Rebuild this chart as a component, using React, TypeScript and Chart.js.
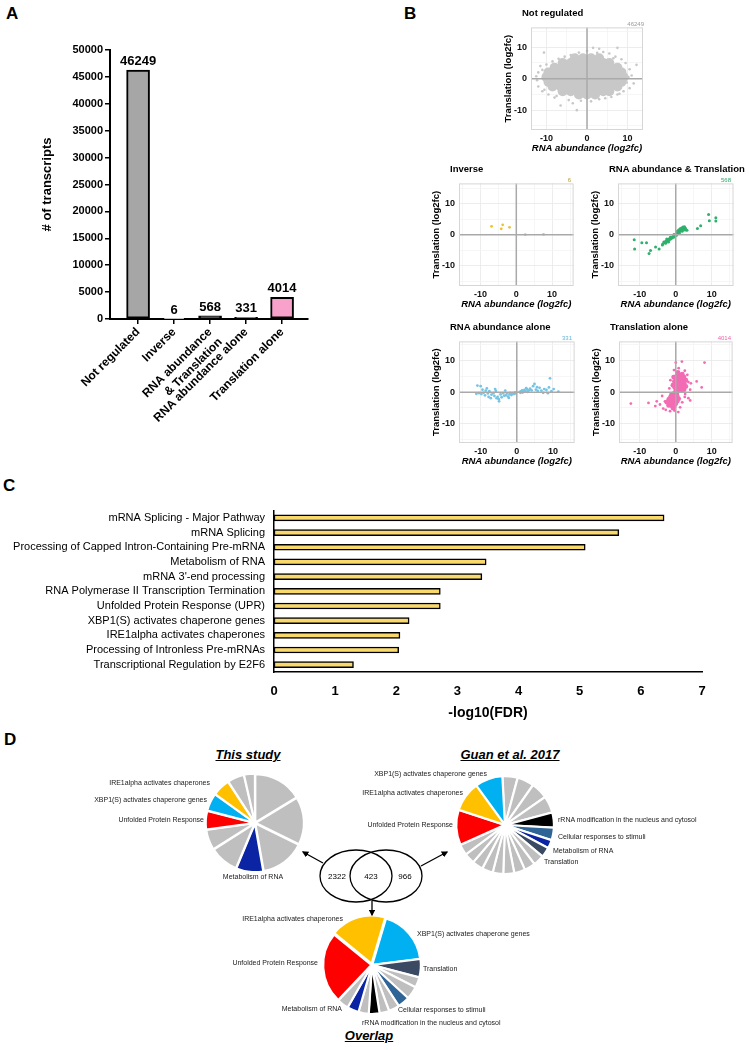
import React, { useEffect, useRef } from "react";
import { Chart, registerables } from "chart.js";

Chart.register(...registerables);

const FONT = '"Liberation Sans", Arial, Helvetica, sans-serif';
Chart.defaults.font.family = FONT;
Chart.defaults.color = "#000";

// ---------------- Panel A data ----------------
const transcriptCategories: any[] = [
  "Not regulated",
  "Inverse",
  ["RNA abundance", "& Translation"],
  "RNA abundance alone",
  "Translation alone",
];
const transcriptCounts = [46249, 6, 568, 331, 4014];
const transcriptColors = ["#a6a6a6", "#ffffff", "#222222", "#8c8c8c", "#f7a1cb"];

// ---------------- Panel B data (log2fc RNA abundance, log2fc translation) ----------------
const notRegulatedCore: number[][] = [
  [-3, 6.5], [-1, 6.5], [1, 6.5], [3, 6.5],
  [-6, 5], [-4, 5], [-2, 5], [0, 5], [2, 5], [4, 5], [5.5, 5],
  [-8, 3.5], [-6, 3.5], [-4, 3.5], [-2, 3.5], [0, 3.5], [2, 3.5], [4, 3.5], [6, 3.5], [7.5, 3.5],
  [-9.5, 2], [-7.5, 2], [-5.5, 2], [-3.5, 2], [-1.5, 2], [0.5, 2], [2.5, 2], [4.5, 2], [6.5, 2], [8.5, 2],
  [-10, 0.5], [-8, 0.5], [-6, 0.5], [-4, 0.5], [-2, 0.5], [0, 0.5], [2, 0.5], [4, 0.5], [6, 0.5], [8, 0.5], [9, 0.5],
  [-9.5, -1], [-7.5, -1], [-5.5, -1], [-3.5, -1], [-1.5, -1], [0.5, -1], [2.5, -1], [4.5, -1], [6.5, -1], [8.5, -1],
  [-8.5, -2.5], [-6.5, -2.5], [-4.5, -2.5], [-2.5, -2.5], [-0.5, -2.5], [1.5, -2.5], [3.5, -2.5], [5.5, -2.5], [7.5, -2.5],
  [-6, -4], [-4, -4], [-2, -4], [0, -4], [2, -4], [4, -4], [5.5, -4],
  [-2, -5], [0, -5], [2, -5],
];
const notRegulatedSparse: number[][] = [
  [-10.6, 8.3], [-11.5, 4], [-12, 2], [-12.3, -0.5], [-12, -2.5], [-11, -4], [-9.5, -5], [-8, -6],
  [-6.5, -8.5], [-2.5, -10], [-4.5, -6.8], [-1.5, -7], [1, -7.2], [3, -6.5], [4.5, -6.2], [6, -5.8],
  [7.5, -5], [9, -4], [10.5, -3], [11.5, -1.5], [11, 1], [10.5, 3], [12.2, 4.4], [9.5, 5],
  [8.5, 6.2], [7, 7], [7.5, 9.8], [5.5, 8], [4, 8.5], [3, 9.5], [1.5, 9.8], [0, 8.8],
  [-2, 8.3], [-4, 7.5], [-5.5, 7], [-7, 6.3], [-8.5, 5.5], [-10, 4.5], [-11, 2.8], [-10.5, -3.5],
  [9.8, -1.2], [10.2, 0.5], [-12.5, 0.8], [-7.5, -5.5], [6.5, 6.5], [-3.5, -7.8], [2.5, 8.2], [8, -4.8],
];
const inversePoints: number[][] = [
  [-6.9, 2.7], [-4.2, 1.9], [-3.8, 3.2], [-1.9, 2.4], [2.5, 0], [7.6, 0.1],
];
const bothPoints: number[][] = [
  [-11.5, -1.6], [-11.4, -4.6], [-9.4, -2.6], [-8.1, -2.6], [-7.4, -6.1], [-7, -5.1], [-5.6, -4],
  [-4.6, -4.6], [-3.7, -3.3], [-2.8, -2.8], [3.1, 1.4], [6, 2], [6.9, 2.9], [9.1, 6.5], [9.3, 4.5],
  [11.1, 5.5], [11.1, 4.4],
  [-3.3, -2.4], [-3, -2.6], [-2.8, -2.1], [-2.6, -2.3], [-2.4, -1.8], [-2.2, -2], [-2, -1.5],
  [-1.8, -1.7], [-1.6, -1.2], [-1.4, -1.4], [-1.2, -0.9], [-1, -1.1], [-0.8, -0.6], [-0.6, -0.8],
  [-0.4, -0.3], [-0.2, -0.5], [0, 0], [0.3, 0.5], [0.5, 0.8], [0.7, 0.6], [0.9, 1.2], [1.1, 1],
  [1.3, 1.5], [1.5, 1.3], [1.7, 1.8], [1.9, 1.6], [2.1, 2.1], [2.3, 1.9], [2.5, 2.3], [2.7, 2],
  [0.8, 1.5], [1.2, 1.9], [1.6, 2.2], [2, 2.5], [2.4, 2.6], [0.4, 1.1], [-1.5, -0.8], [-2.5, -1.4],
  [-3.6, -3], [-2, -2.4], [1, 0.4], [1.8, 1.1], [2.6, 1.5], [0.2, -0.2], [-0.5, 0.1],
];
const rnaAlonePoints: number[][] = [
  [-10.9, 2.1], [-10, 1.9], [-11.2, -0.5], [-10.5, -0.3], [-9.8, -0.6], [-9.2, -0.2], [-8.6, 0.5],
  [-8.8, -1], [-8, -0.4], [-7.6, 0.3], [-7.2, -1.9], [-7, -0.8], [-6.5, -0.3], [-6.2, -1.2],
  [-5.8, 0.4], [-5.3, -1.5], [-4.9, -2.9], [-5, -2.2], [-4.5, -0.7], [-4.2, -1.6], [-3.8, -0.3],
  [-3.5, -1.1], [-3, -1], [-2.7, -0.4], [-2.4, -1.4], [-2, -0.7], [-1.8, -0.2], [-1.5, -0.9],
  [-1.1, -0.3], [-0.8, -0.6], [-0.5, -0.1], [-1.3, -0.5], [-0.3, -0.4], [-8.3, 1.2], [-6, 1],
  [-3.2, 0.5], [-9.5, 0.8], [-7.8, -1.5], [-5.6, -1.9], [-2.2, -1.8],
  [0.8, 0.1], [1.2, 0.3], [1.5, 0.6], [1.8, 0.2], [2.1, 0.7], [2.4, 0.4], [2.6, 1.3], [2.9, 0.9],
  [3.3, 0.5], [3.7, 1.1], [4.1, 0.6], [4.5, 1.9], [4.9, 2.6], [5.3, 0.8], [5.8, 0.4], [6.3, 1.4],
  [6.8, 0.5], [7.3, -0.2], [7.6, 1], [8.2, 0.7], [8.6, -0.3], [9.2, 4.4], [9.6, 0.3], [10.2, 1],
  [11.5, 0.2], [1, -0.2], [1.6, -0.1], [3, 0.1], [5.6, 1.6], [8.9, 1.5],
];
const translationCore: number[][] = [
  [0, 0.5], [0.8, 0.5], [1.6, 0.6], [2.3, 0.8], [-0.3, 1.5], [0.5, 1.5], [1.3, 1.5], [2.1, 1.6],
  [2.8, 1.8], [0, 2.5], [0.8, 2.5], [1.6, 2.5], [2.4, 2.7], [-0.4, 3.4], [0.4, 3.4], [1.2, 3.5],
  [2, 3.5], [2.8, 3.8], [0, 4.4], [0.8, 4.4], [1.6, 4.5], [2.3, 4.8], [0.3, 5.4], [1.1, 5.4],
  [1.8, 5.7], [0.6, 6.3], [-0.6, 4.8], [-0.8, 2.2],
  [-0.5, -0.4], [0.3, -0.5], [-1.2, -0.8], [-0.4, -1.2], [0.4, -1.3], [-1.5, -1.6], [-0.8, -2],
  [0, -2], [0.8, -2.1], [-2, -2.4], [-1.2, -2.8], [-0.4, -2.8], [0.4, -2.9], [-2.5, -3.2],
  [-1.6, -3.5], [-0.8, -3.6], [0, -3.7], [-2, -4.2], [-1.2, -4.3], [-0.4, -4.4], [-0.8, -5],
];
const translationSparse: number[][] = [
  [0, 9.4], [1.7, 9.7], [8, 9.4], [0.8, 7.6], [-0.5, 7], [2.5, 6.8], [3.2, 5.5], [3.5, 3.2],
  [4.2, 2.8], [5.8, 3.4], [7.2, 1.5], [4, 0.8], [-1.5, 3.8], [-1.8, 1.2], [-12.5, -3.6],
  [-7.6, -3.4], [-5.7, -4.4], [-5.3, -2.9], [-4.4, -3.9], [-3, -2.9], [-3.5, -5.2], [-2.8, -5.6],
  [-2, -1.9], [3.5, -1.9], [4, -2.6], [2.5, -1.5], [1.8, -3.2], [0.7, -6.3], [-0.4, -5.8],
  [1.2, -4.8], [-1.6, -6], [2.6, -0.6], [-3.8, -1.2],
];
const scatterTitles = ["Not regulated", "Inverse", "RNA abundance & Translation", "RNA abundance alone", "Translation alone"];
const scatterCounts = ["46249", "6", "568", "331", "4014"];
const scatterGridTicks = [-15, -10, -5, 0, 5, 10, 15];
const scatterLabelTicks = [-10, 0, 10];

// ---------------- Panel C data ----------------
const pathwayNames = [
  "mRNA Splicing - Major Pathway",
  "mRNA Splicing",
  "Processing of Capped Intron-Containing Pre-mRNA",
  "Metabolism of RNA",
  "mRNA 3'-end processing",
  "RNA Polymerase II Transcription Termination",
  "Unfolded Protein Response (UPR)",
  "XBP1(S) activates chaperone genes",
  "IRE1alpha activates chaperones",
  "Processing of Intronless Pre-mRNAs",
  "Transcriptional Regulation by E2F6",
];
const pathwayScores = [6.38, 5.64, 5.09, 3.47, 3.4, 2.72, 2.72, 2.21, 2.06, 2.04, 1.3];

// ---------------- Panel D data ----------------
const G = "#bfbfbf", RED = "#ff0000", CYAN = "#00b0f0", YEL = "#ffc000", DBLUE = "#0a24a3",
  BLACK = "#000000", STEEL = "#2f6497", SLATE = "#3b4a63";
const thisStudyNames = ["", "", "", "Metabolism of RNA", "", "", "Unfolded Protein Response",
  "XBP1(S) activates chaperone genes", "IRE1alpha activates chaperones", "", ""];
const thisStudyValues = [58.7, 57.3, 54, 32.5, 35, 24.6, 22.3, 21.3, 21.2, 20, 13];
const thisStudyColors = [G, G, G, DBLUE, G, G, RED, CYAN, YEL, G, G];

const guanNames = ["", "", "", "", "rRNA modification in the nucleus and cytosol",
  "Cellular responses to stimuli", "Metabolism of RNA", "Translation",
  "", "", "", "", "", "", "", "", "",
  "Unfolded Protein Response", "IRE1alpha activates chaperones", "XBP1(S) activates chaperone genes"];
const guanValues = [18, 20, 20, 20, 18, 15, 10, 12, 13, 13, 13, 13, 12.5, 13, 13, 12.5, 13, 42, 36, 33];
const guanColors = [G, G, G, G, BLACK, STEEL, DBLUE, SLATE, G, G, G, G, G, G, G, G, G, RED, YEL, CYAN];

const overlapNames = ["IRE1alpha activates chaperones", "XBP1(S) activates chaperone genes",
  "Translation", "", "", "Cellular responses to stimuli", "", "",
  "rRNA modification in the nucleus and cytosol", "", "Metabolism of RNA", "", "Unfolded Protein Response"];
const overlapValues = [67.2, 66.3, 21.9, 12.3, 15.5, 14.3, 12.7, 11.5, 12.8, 12.2, 13.8, 13.7, 85.8];
const overlapColors = [YEL, CYAN, SLATE, G, G, STEEL, G, G, BLACK, G, DBLUE, G, RED];

const vennCounts = [2322, 423, 966];

// ---------------- helpers ----------------
function ChartCanvas({ left, top, width, height, make }: any) {
  const ref = useRef<HTMLCanvasElement>(null);
  useEffect(() => {
    const chart = new Chart(ref.current as HTMLCanvasElement, make());
    return () => chart.destroy();
  }, []);
  return (
    <canvas
      ref={ref}
      width={width}
      height={height}
      style={{ position: "absolute", left, top, width, height }}
    />
  );
}

function Txt({ x, y, text, align = "left", size = 7, bold = false, italic = false, underline = false, color = "#111", family = FONT }: any) {
  const style: any = {
    position: "absolute",
    top: y - size * 0.6,
    whiteSpace: "nowrap",
    fontSize: size,
    lineHeight: `${size * 1.2}px`,
    fontFamily: family,
    fontWeight: bold ? "bold" : "normal",
    fontStyle: italic ? "italic" : "normal",
    textDecoration: underline ? "underline" : "none",
    color,
  };
  if (align === "left") style.left = x;
  else if (align === "right") style.right = 749 - x;
  else {
    style.left = x;
    style.transform = "translateX(-50%)";
  }
  return <div style={style}>{text}</div>;
}

const valueLabelPlugin = {
  id: "valueLabels",
  afterDatasetsDraw(chart: any) {
    const ctx = chart.ctx;
    const meta = chart.getDatasetMeta(0);
    ctx.save();
    ctx.font = `bold 13px ${FONT}`;
    ctx.fillStyle = "#000";
    ctx.textAlign = "center";
    ctx.textBaseline = "alphabetic";
    meta.data.forEach((el: any, i: number) => {
      ctx.fillText(String(transcriptCounts[i]), el.x, el.y - 5);
    });
    ctx.restore();
  },
};

const panelFramePlugin = {
  id: "panelFrame",
  afterDatasetsDraw(chart: any) {
    const { ctx, chartArea: a, scales } = chart;
    ctx.save();
    ctx.strokeStyle = "#a9a9a9";
    ctx.lineWidth = 1.5;
    const x0 = scales.x.getPixelForValue(0);
    const y0 = scales.y.getPixelForValue(0);
    ctx.beginPath();
    ctx.moveTo(x0, a.top);
    ctx.lineTo(x0, a.bottom);
    ctx.moveTo(a.left, y0);
    ctx.lineTo(a.right, y0);
    ctx.stroke();
    ctx.strokeStyle = "#d6d6d6";
    ctx.lineWidth = 1;
    ctx.strokeRect(a.left + 0.5, a.top + 0.5, a.width - 1, a.height - 1);
    ctx.restore();
  },
};

function barAConfig() {
  return {
    type: "bar",
    data: {
      datasets: [{
        data: transcriptCounts.map((v, i) => ({ x: i, y: v })),
        backgroundColor: transcriptColors,
        borderColor: "#000",
        borderWidth: 2,
        borderSkipped: false,
        barThickness: 23,
      }],
    },
    options: {
      animation: false, responsive: false, events: [],
      layout: { padding: { top: 50, right: 12, left: 0, bottom: 0 } },
      plugins: { legend: { display: false }, tooltip: { enabled: false } },
      scales: {
        x: {
          type: "linear", min: -0.78, max: 4.72, offset: false,
          afterBuildTicks: (s: any) => { s.ticks = transcriptCounts.map((_, i) => ({ value: i })); },
          afterFit: (s: any) => { s.height = 111; },
          ticks: {
            autoSkip: false, minRotation: 45, maxRotation: 45,
            callback: (v: any) => transcriptCategories[v],
            font: { size: 12, weight: "bold" }, color: "#000", padding: 1,
          },
          grid: { display: true, offset: false, drawOnChartArea: false, drawTicks: true, tickLength: 5, color: "#000", lineWidth: 1.5 },
          border: { display: true, color: "#000", width: 2 },
        },
        y: {
          min: 0, max: 50000,
          afterFit: (s: any) => { s.width = 110; },
          ticks: { stepSize: 5000, callback: (v: any) => String(v), font: { size: 11, weight: "bold" }, color: "#000", padding: 2 },
          grid: { display: true, drawOnChartArea: false, drawTicks: true, tickLength: 5, color: "#000", lineWidth: 1.5 },
          border: { display: true, color: "#000", width: 2 },
          title: { display: true, text: "# of transcripts", font: { size: 13, weight: "bold" }, color: "#000", padding: { top: 40, bottom: 0 } },
        },
      },
    },
    plugins: [valueLabelPlugin],
  };
}

function scatterConfig(sets: any[], xr: number, yr: number) {
  const gridColor = (c: any) => {
    const v = c.tick ? Math.abs(c.tick.value) : 0;
    return v === 5 || v === 15 ? "#f4f4f4" : "#e9e9e9";
  };
  return {
    type: "scatter",
    data: {
      datasets: sets.map((s) => ({
        data: s.data.map((p: number[]) => ({ x: p[0], y: p[1] })),
        backgroundColor: s.color,
        borderWidth: 0,
        pointRadius: s.r,
        pointHoverRadius: s.r,
      })),
    },
    options: {
      animation: false, responsive: false, events: [],
      layout: { padding: { top: 1, right: 1, left: 0, bottom: 0 } },
      plugins: { legend: { display: false }, tooltip: { enabled: false } },
      scales: {
        x: {
          type: "linear", min: -xr, max: xr,
          afterBuildTicks: (s: any) => { s.ticks = scatterGridTicks.filter((v) => Math.abs(v) < xr).map((v) => ({ value: v })); },
          afterFit: (s: any) => { s.height = 24; },
          ticks: {
            autoSkip: false, maxRotation: 0, minRotation: 0,
            callback: (v: any) => (scatterLabelTicks.includes(v) ? String(v) : ""),
            font: { size: 9, weight: "bold" }, color: "#111", padding: 3,
          },
          grid: { color: gridColor, drawTicks: false, lineWidth: 0.8 },
          border: { display: false },
          title: { display: true, text: "RNA abundance (log2fc)", font: { size: 9.5, weight: "bold", style: "italic" }, color: "#000", padding: 0 },
        },
        y: {
          type: "linear", min: -yr, max: yr,
          afterBuildTicks: (s: any) => { s.ticks = scatterGridTicks.filter((v) => Math.abs(v) < yr).map((v) => ({ value: v })); },
          afterFit: (s: any) => { s.width = 30; },
          ticks: {
            autoSkip: false,
            callback: (v: any) => (scatterLabelTicks.includes(v) ? String(v) : ""),
            font: { size: 9, weight: "bold" }, color: "#111", padding: 4,
          },
          grid: { color: gridColor, drawTicks: false, lineWidth: 0.8 },
          border: { display: false },
          title: { display: true, text: "Translation (log2fc)", font: { size: 9.5, weight: "bold" }, color: "#000", padding: { top: 2, bottom: 0 } },
        },
      },
    },
    plugins: [panelFramePlugin],
  };
}

function barCConfig() {
  return {
    type: "bar",
    data: {
      labels: pathwayNames,
      datasets: [{
        data: pathwayScores,
        backgroundColor: "#f9d96c",
        borderColor: "#000",
        borderWidth: 1.5,
        borderSkipped: false,
        barThickness: 6,
      }],
    },
    options: {
      indexAxis: "y",
      animation: false, responsive: false, events: [],
      layout: { padding: { top: 11, right: 18, left: 0, bottom: 0 } },
      plugins: { legend: { display: false }, tooltip: { enabled: false } },
      scales: {
        y: {
          afterFit: (s: any) => { s.width = 274; },
          ticks: { font: { size: 11 }, color: "#000", padding: 9, autoSkip: false },
          grid: { display: false, drawTicks: false },
          border: { display: true, color: "#000", width: 1.5 },
        },
        x: {
          min: 0, max: 7,
          afterFit: (s: any) => { s.height = 58; },
          ticks: { stepSize: 1, font: { size: 13, weight: "bold" }, color: "#000", padding: 12 },
          grid: { display: false, drawTicks: false },
          border: { display: true, color: "#000", width: 1.5 },
          title: { display: true, text: "-log10(FDR)", font: { size: 14, weight: "bold" }, color: "#000", padding: { top: 0, bottom: 8 } },
        },
      },
    },
  };
}

function pieConfig(names: string[], values: number[], colors: string[], offsets: number[], rotation: number) {
  return {
    type: "pie",
    data: {
      labels: names,
      datasets: [{ data: values, backgroundColor: colors, borderColor: "#ffffff", borderWidth: 2, offset: offsets }],
    },
    options: {
      animation: false, responsive: false, events: [],
      radius: 48,
      rotation,
      layout: { padding: 0 },
      plugins: { legend: { display: false }, tooltip: { enabled: false } },
    },
  };
}

// ---------------- layout ----------------
const scatterPanels = [
  { left: 531, top: 19, w: 116, h: 111, xr: 13.8, yr: 16.3 },
  { left: 459, top: 175, w: 115, h: 111, xr: 16, yr: 16.6 },
  { left: 618, top: 175, w: 116, h: 111, xr: 16, yr: 16.6 },
  { left: 459, top: 333, w: 116, h: 110, xr: 16, yr: 16.1 },
  { left: 619, top: 333, w: 115, h: 110, xr: 15.8, yr: 16.1 },
];
const scatterCountColors = ["#9a9a9a", "#b89b2a", "#2ea86a", "#62b6dc", "#ee5fa9"];
const scatterSets = [
  [{ data: notRegulatedCore, color: "#c8c8c8", r: 5 }, { data: notRegulatedSparse, color: "#c8c8c8", r: 1.3 }],
  [{ data: inversePoints, color: "#e9c431", r: 1.4 }],
  [{ data: bothPoints, color: "#2fb06c", r: 1.5 }],
  [{ data: rnaAlonePoints, color: "#76c4e4", r: 1.4 }],
  [{ data: translationCore, color: "#f36cb3", r: 2.4 }, { data: translationSparse, color: "#f36cb3", r: 1.4 }],
];

const pieLabels = [
  { t: "IRE1alpha activates chaperones", x: 210, y: 783, a: "right" },
  { t: "XBP1(S) activates chaperone genes", x: 207, y: 800, a: "right" },
  { t: "Unfolded Protein Response", x: 204, y: 820, a: "right" },
  { t: "Metabolism of RNA", x: 253, y: 877, a: "center" },
  { t: "XBP1(S) activates chaperone genes", x: 487, y: 774, a: "right" },
  { t: "IRE1alpha activates chaperones", x: 463, y: 793, a: "right" },
  { t: "Unfolded Protein Response", x: 453, y: 825, a: "right" },
  { t: "rRNA modification in the nucleus and cytosol", x: 558, y: 820, a: "left" },
  { t: "Cellular responses to stimuli", x: 558, y: 837, a: "left" },
  { t: "Metabolism of RNA", x: 553, y: 851, a: "left" },
  { t: "Translation", x: 544, y: 862, a: "left" },
  { t: "IRE1alpha activates chaperones", x: 343, y: 919, a: "right" },
  { t: "XBP1(S) activates chaperone genes", x: 417, y: 934, a: "left" },
  { t: "Unfolded Protein Response", x: 318, y: 963, a: "right" },
  { t: "Translation", x: 423, y: 969, a: "left" },
  { t: "Metabolism of RNA", x: 342, y: 1009, a: "right" },
  { t: "Cellular responses to stimuli", x: 398, y: 1010, a: "left" },
  { t: "rRNA modification in the nucleus and cytosol", x: 362, y: 1023, a: "left" },
];

export default function App() {
  return (
    <div style={{ position: "absolute", left: 0, top: 0, width: 749, height: 1050, background: "#fff", overflow: "hidden", fontFamily: FONT }}>
      {/* Panel letters */}
      <Txt x={6} y={14} text="A" size={17} bold color="#000" />
      <Txt x={404} y={14} text="B" size={17} bold color="#000" />
      <Txt x={3} y={486} text="C" size={17} bold color="#000" />
      <Txt x={4} y={740} text="D" size={17} bold color="#000" />

      {/* Panel A */}
      <ChartCanvas left={0} top={0} width={320} height={430} make={barAConfig} />

      {/* Panel B */}
      {scatterPanels.map((p, i) => (
        <React.Fragment key={"sc" + i}>
          <ChartCanvas
            left={p.left - 30}
            top={p.top - 1}
            width={p.w + 31}
            height={p.h + 25}
            make={() => scatterConfig(scatterSets[i], p.xr, p.yr)}
          />
          <Txt x={p.left - 9} y={p.top - 6} text={scatterTitles[i]} size={9.5} bold color="#000" />
          <Txt x={p.left + p.w - 3} y={p.top + 6} text={scatterCounts[i]} size={6} align="right" color={scatterCountColors[i]} />
        </React.Fragment>
      ))}

      {/* Panel C */}
      <ChartCanvas left={0} top={495} width={720} height={235} make={barCConfig} />

      {/* Panel D pies */}
      <ChartCanvas left={255 - 60} top={823 - 60} width={120} height={120}
        make={() => pieConfig(thisStudyNames, thisStudyValues, thisStudyColors, thisStudyValues.map(() => 3), 0)} />
      <ChartCanvas left={505 - 60} top={825 - 60} width={120} height={120}
        make={() => pieConfig(guanNames, guanValues, guanColors, guanValues.map(() => 2), -3)} />
      <ChartCanvas left={372 - 60} top={965 - 60} width={120} height={120}
        make={() => pieConfig(overlapNames, overlapValues, overlapColors, overlapColors.map((c) => (c === YEL ? 6 : c === RED ? 3 : 2)), -50.7)} />

      <Txt x={248} y={755} text="This study" size={13} bold italic underline align="center" color="#000" />
      <Txt x={510} y={755} text="Guan et al. 2017" size={13} bold italic underline align="center" color="#000" />
      <Txt x={369} y={1036} text="Overlap" size={13} bold italic underline align="center" color="#000" />

      {pieLabels.map((l, i) => (
        <Txt key={"pl" + i} x={l.x} y={l.y} text={l.t} size={7} align={l.a} color="#1a1a1a" />
      ))}

      {/* Venn diagram and arrows */}
      <svg width={749} height={1050} style={{ position: "absolute", left: 0, top: 0, pointerEvents: "none" }}>
        <defs>
          <marker id="ah" viewBox="0 0 10 10" refX="8" refY="5" markerWidth="5" markerHeight="5" orient="auto">
            <path d="M0,0 L10,5 L0,10 z" fill="#000" />
          </marker>
        </defs>
        <ellipse cx={356} cy={876} rx={36} ry={26} fill="none" stroke="#000" strokeWidth={1.3} />
        <ellipse cx={386} cy={876} rx={36} ry={26} fill="none" stroke="#000" strokeWidth={1.3} />
        <line x1={323} y1={863} x2={303} y2={852} stroke="#000" strokeWidth={1.3} markerEnd="url(#ah)" />
        <line x1={421} y1={866} x2={447} y2={852} stroke="#000" strokeWidth={1.3} markerEnd="url(#ah)" />
        <line x1={372} y1={901} x2={372} y2={915} stroke="#000" strokeWidth={1.3} markerEnd="url(#ah)" />
        <text x={337} y={879} fontSize={8} fontFamily={FONT} textAnchor="middle">{vennCounts[0]}</text>
        <text x={371} y={879} fontSize={8} fontFamily={FONT} textAnchor="middle">{vennCounts[1]}</text>
        <text x={405} y={879} fontSize={8} fontFamily={FONT} textAnchor="middle">{vennCounts[2]}</text>
      </svg>
    </div>
  );
}
